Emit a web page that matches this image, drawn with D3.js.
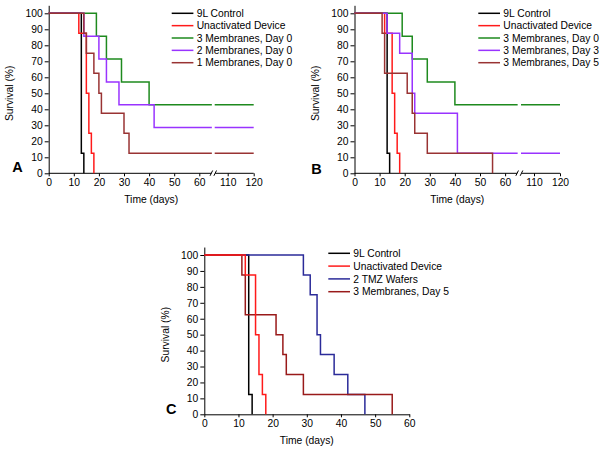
<!DOCTYPE html>
<html><head><meta charset="utf-8">
<script src="https://cdn.jsdelivr.net/npm/d3@7"></script>
<style>
body{margin:0;background:#fff;}
svg{display:block;font-family:"Liberation Sans",Arial,sans-serif;}
.tick text{font-size:10.3px;fill:#000;}
</style></head>
<body><svg id="c" width="603" height="453"></svg>
<script>
// ---------- DATA ----------
const panelLetters = ["A","B","C"];
const yTicks = [0,10,20,30,40,50,60,70,80,90,100];
const xTicksAB = [0,10,20,30,40,50,60,110,120];
const xTicksC = [0,10,20,30,40,50,60];
const yTitle = "Survival (%)";
const xTitle = "Time (days)";

// Panel A
const namesA = ["9L Control","Unactivated Device","3 Membranes, Day 0","2 Membranes, Day 0","1 Membranes, Day 0"];
const timesA = [
  [0,13,14],
  [0,12,15,16,17,18],
  [0,19,23,29,40],
  [0,14,20,23,28,42],
  [0,14,15,18,20,21,30,32]
];
const survA = [
  [100,12.5,0],
  [100,87.5,50,25,12.5,0],
  [100,85.7,71.4,57.1,42.9],
  [100,85.7,71.4,57.1,42.9,28.6],
  [100,87.5,75,62.5,50,37.5,25,12.5]
];
const endA = [14,18,120,120,120];

// Panel B
const namesB = ["9L Control","Unactivated Device","3 Membranes, Day 0","3 Membranes, Day 3","3 Membranes, Day 5"];
const timesB = [
  [0,13,14],
  [0,12,15,16,17,18],
  [0,19,23,29,40],
  [0,13,18,23,24,41],
  [0,11,12,21,23,24,29,55]
];
const survB = [
  [100,12.5,0],
  [100,87.5,50,25,12.5,0],
  [100,85.7,71.4,57.1,42.9],
  [100,87.5,75,50,37.5,12.5],
  [100,87.5,62.5,50,37.5,25,12.5,0]
];
const endB = [14,18,120,120,55];

// Panel C
const namesC = ["9L Control","Unactivated Device","2 TMZ Wafers","3 Membranes, Day 5"];
const timesC = [
  [0,13,14],
  [0,12,15,16,17,18],
  [0,29,31,33,34,38,42,47],
  [0,11,12,21,23,24,29,55]
];
const survC = [
  [100,12.5,0],
  [100,87.5,50,25,12.5,0],
  [100,87.5,75,50,37.5,25,12.5,0],
  [100,87.5,62.5,50,37.5,25,12.5,0]
];
const endC = [14,18,47,55];

// ---------- STYLE ----------
const colorsA = ["#000000","#ff1a1a","#1e8a1e","#9933ff","#993333"];
const colorsB = ["#000000","#ff1a1a","#1e8a1e","#9933ff","#993333"];
const colorsC = ["#000000","#ff1a1a","#2b2b99","#991a1a"];
const drawOrderA = [0,1,2,3,4];
const drawOrderB = [0,1,2,3,4];
const drawOrderC = [0,2,3,1];

const svg = d3.select("#c");
const defs = svg.append("defs");

function panel(cfg){
  const g = svg.append("g");
  const x = cfg.broken
    ? d3.scaleLinear().domain([0,65,105,120]).range([cfg.x0, cfg.x0+65*2.51, cfg.x1-15*2.6, cfg.x1])
    : d3.scaleLinear().domain([0,60]).range([cfg.x0, cfg.x1]);
  const y = d3.scaleLinear().domain([0,105]).range([cfg.yb, cfg.yb-105*cfg.ky]);

  // Y axis
  const ya = g.append("g").attr("transform",`translate(${cfg.x0},0)`)
    .call(d3.axisLeft(y).tickValues(yTicks).tickSize(4).tickPadding(2).tickSizeOuter(0));
  ya.select(".domain").attr("stroke","#000");
  ya.selectAll(".tick line").attr("stroke","#000");

  // X axis
  const xa = g.append("g").attr("transform",`translate(0,${cfg.yb})`)
    .call(d3.axisBottom(x).tickValues(cfg.broken?xTicksAB:xTicksC).tickSize(3).tickPadding(2).tickSizeOuter(0));
  xa.selectAll(".tick line").attr("stroke","#000");
  if(cfg.broken){
    xa.select(".domain").remove();
    const b0 = x(65), b1 = x(105);
    xa.append("line").attr("x1",cfg.x0).attr("x2",b0-0.5).attr("y1",0).attr("y2",0).attr("stroke","#000");
    xa.append("line").attr("x1",b1+0.5).attr("x2",cfg.x1).attr("y1",0).attr("y2",0).attr("stroke","#000");
    xa.append("line").attr("x1",b0-1.8).attr("y1",2.5).attr("x2",b0+0.8).attr("y2",-2.8).attr("stroke","#000");
    xa.append("line").attr("x1",b1-0.8).attr("y1",2.5).attr("x2",b1+1.8).attr("y2",-2.8).attr("stroke","#000");
  } else {
    xa.select(".domain").attr("stroke","#000");
  }

  // clip for broken axis
  let clipId = null;
  if(cfg.broken){
    clipId = "clip"+cfg.letter;
    const cp = defs.append("clipPath").attr("id",clipId);
    cp.append("rect").attr("x",cfg.x0-5).attr("y",0).attr("width",x(65)-cfg.x0+5).attr("height",453);
    cp.append("rect").attr("x",x(105)).attr("y",0).attr("width",cfg.x1-x(105)+5).attr("height",453);
  }

  const line = d3.line().x(d=>x(d[0])).y(d=>y(d[1])).curve(d3.curveStepAfter);
  const lg = g.append("g");
  if(clipId) lg.attr("clip-path",`url(#${clipId})`);
  cfg.order.forEach(i=>{
    const pts = cfg.times[i].map((t,j)=>[t,cfg.surv[i][j]]);
    pts.push([cfg.ends[i], cfg.surv[i][cfg.surv[i].length-1]]);
    lg.append("path").attr("d",line(pts)).attr("fill","none")
      .attr("stroke",cfg.colors[i]).attr("stroke-width",1.5);
  });

  // Legend
  cfg.names.forEach((n,i)=>{
    const yy = cfg.ly + i*cfg.ldy;
    g.append("line").attr("x1",cfg.lx).attr("x2",cfg.lx+21.7).attr("y1",yy).attr("y2",yy)
      .attr("stroke",cfg.colors[i]).attr("stroke-width",1.5);
    g.append("text").attr("x",cfg.lx+25).attr("y",yy).attr("dy","0.35em")
      .attr("font-size","10.3px").text(n);
  });

  // titles
  g.append("text").attr("x",(cfg.x0+cfg.x1)/2).attr("y",cfg.yb+30).attr("text-anchor","middle")
    .attr("font-size","10.3px").text(xTitle);
  g.append("text").attr("transform",`translate(${cfg.ytx},${cfg.yb-50*cfg.ky}) rotate(-90)`)
    .attr("text-anchor","middle").attr("font-size","10.3px").text(yTitle);
  g.append("text").attr("x",cfg.px).attr("y",cfg.py).attr("font-size","14.5px")
    .attr("font-weight","bold").text(cfg.letter);
}

panel({letter:panelLetters[0],broken:true,x0:48.7,x1:253.7,yb:173.3,ky:1.6,
  names:namesA,times:timesA,surv:survA,ends:endA,colors:colorsA,order:drawOrderA,
  lx:171.7,ly:13.3,ldy:12.35,ytx:13.2,px:12.3,py:172});
panel({letter:panelLetters[1],broken:true,x0:354.5,x1:560,yb:173.3,ky:1.6,
  names:namesB,times:timesB,surv:survB,ends:endB,colors:colorsB,order:drawOrderB,
  lx:478.3,ly:13.3,ldy:12.35,ytx:319.2,px:311.2,py:173.5});
panel({letter:panelLetters[2],broken:false,x0:204.3,x1:409.3,yb:414.3,ky:1.593,
  names:namesC,times:timesC,surv:survC,ends:endC,colors:colorsC,order:drawOrderC,
  lx:328.3,ly:253.3,ldy:12.8,ytx:169.2,px:166,py:414});
</script></body></html>
